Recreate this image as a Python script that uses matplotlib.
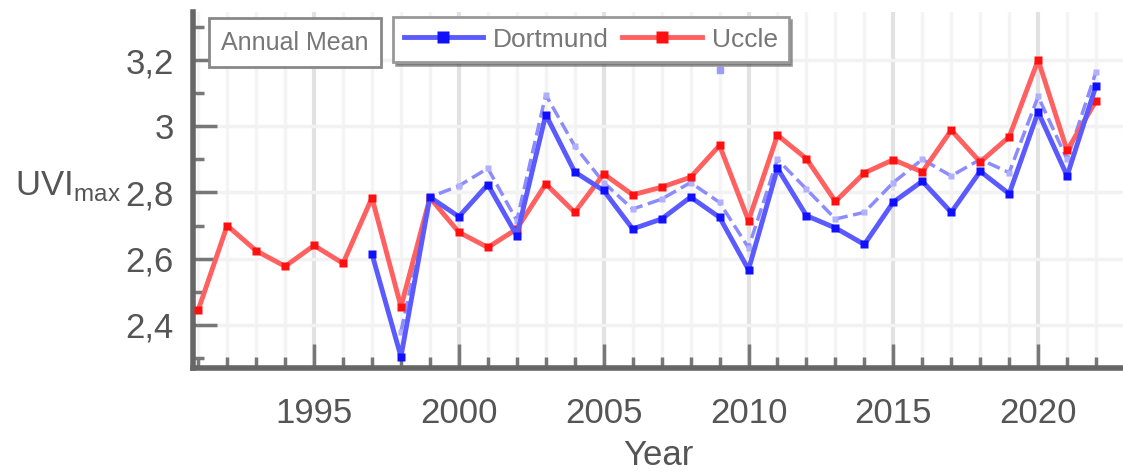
import numpy as np
import matplotlib
matplotlib.use('Agg')
import matplotlib.pyplot as plt
from matplotlib.ticker import MultipleLocator, FuncFormatter

plt.rcParams['font.family'] = ['Liberation Sans', 'DejaVu Sans']

# data
uccle_years = list(range(1991, 2023))
uccle_uvi = [2.445, 2.70, 2.624, 2.577, 2.64, 2.586, 2.784, 2.455, 2.784, 2.68,
             2.634, 2.69, 2.826, 2.74, 2.856, 2.793, 2.816, 2.846, 2.942, 2.715,
             2.973, 2.902, 2.773, 2.859, 2.899, 2.862, 2.988, 2.892, 2.968, 3.20,
             2.927, 3.077]

dortmund_years = list(range(1997, 2023))
dortmund_uvi = [2.614, 2.304, 2.786, 2.727, 2.824, 2.67, 3.035, 2.862, 2.806, 2.69,
                2.72, 2.786, 2.725, 2.567, 2.873, 2.73, 2.693, 2.643, 2.771, 2.834,
                2.74, 2.864, 2.796, 3.043, 2.85, 3.123]

dortmund2_years = list(range(1998, 2023))
dortmund2_uvi = [2.38, 2.786, 2.82, 2.873, 2.715, 3.095, 2.94, 2.83, 2.75, 2.78,
                 2.83, 2.77, 2.633, 2.90, 2.81, 2.72, 2.74, 2.83, 2.90, 2.85,
                 2.90, 2.86, 3.09, 2.90, 3.165]

outlier_years = [2009]
outlier_uvi = [3.17]

fig = plt.figure(figsize=(11.23, 4.73), dpi=100)
ax = fig.add_axes([193 / 1123, 1 - 368 / 473, 1 - 193 / 1123, (368 - 12) / 473])

ax.plot(dortmund2_years, dortmund2_uvi, '--', color='#8c8cff', lw=2.5,
        marker='s', ms=4, mfc='#b0b0ff', mec='none', zorder=3)
ax.plot(outlier_years, outlier_uvi, 's', color='#9a9aff', ms=4, zorder=3)
ax.plot(uccle_years, uccle_uvi, '-', color='#ff6060', lw=3.5,
        marker='s', ms=6, mfc='#ff1010', mec='none', label='Uccle', zorder=4)
ax.plot(dortmund_years, dortmund_uvi, '-', color='#5a5aff', lw=3.5,
        marker='s', ms=6, mfc='#1010ff', mec='none', label='Dortmund', zorder=5)

ax.set_xlim(1990.82, 2022.93)
ax.set_ylim(2.27, 3.345)

ax.xaxis.set_major_locator(MultipleLocator(5))
ax.xaxis.set_minor_locator(MultipleLocator(1))
ax.yaxis.set_major_locator(MultipleLocator(0.2))
ax.yaxis.set_minor_locator(MultipleLocator(0.1))
ax.yaxis.set_major_formatter(FuncFormatter(lambda v, p: ('%g' % round(v, 2)).replace('.', ',')))

ax.grid(which='major', axis='x', color='#e2e2e2', lw=3)
ax.grid(which='minor', axis='x', color='#f4f4f4', lw=2.5)
ax.grid(which='major', axis='y', color='#f2f2f2', lw=2.5)
ax.set_axisbelow(True)

for s in ['top', 'right']:
    ax.spines[s].set_visible(False)
for s in ['left', 'bottom']:
    ax.spines[s].set_color('#666666')
    ax.spines[s].set_linewidth(4)

ax.tick_params(which='major', direction='in', length=17, width=2.5, color='#777777',
               labelsize=25, labelcolor='#555555', pad=14)
ax.tick_params(which='minor', direction='in', length=8, width=2.5, color='#777777')
ax.tick_params(axis='x', which='major', pad=21)

ax.set_xlabel('Year', fontsize=25, color='#555555', labelpad=6)
fig.text(15 / 1123, 1 - 186 / 473, r'UVI$_{\mathregular{max}}$', fontsize=25,
         color='#555555', va='center', ha='left',
         math_fontfamily='dejavusans')

# "Annual Mean" label box
fig.text(221 / 1123, 1 - 43 / 473, 'Annual Mean', fontsize=18, color='#777777',
         va='center', ha='left',
         bbox=dict(boxstyle='square,pad=0.5', fc='white', ec='#888888', lw=2))

handles, labels = ax.get_legend_handles_labels()
leg = ax.legend(handles[::-1], labels[::-1], loc='upper left',
                bbox_to_anchor=(393 / 1123, 1 - 17 / 473), bbox_transform=fig.transFigure,
                ncol=2, fontsize=19, frameon=True, fancybox=False, shadow=True,
                edgecolor='#999999', handlelength=3.0, columnspacing=0.5,
                handletextpad=0.4, borderpad=0.4, borderaxespad=0, markerscale=1.4)
leg.get_frame().set_linewidth(2)
for t in leg.get_texts():
    t.set_color('#777777')

fig.savefig('out.png', dpi=100)
